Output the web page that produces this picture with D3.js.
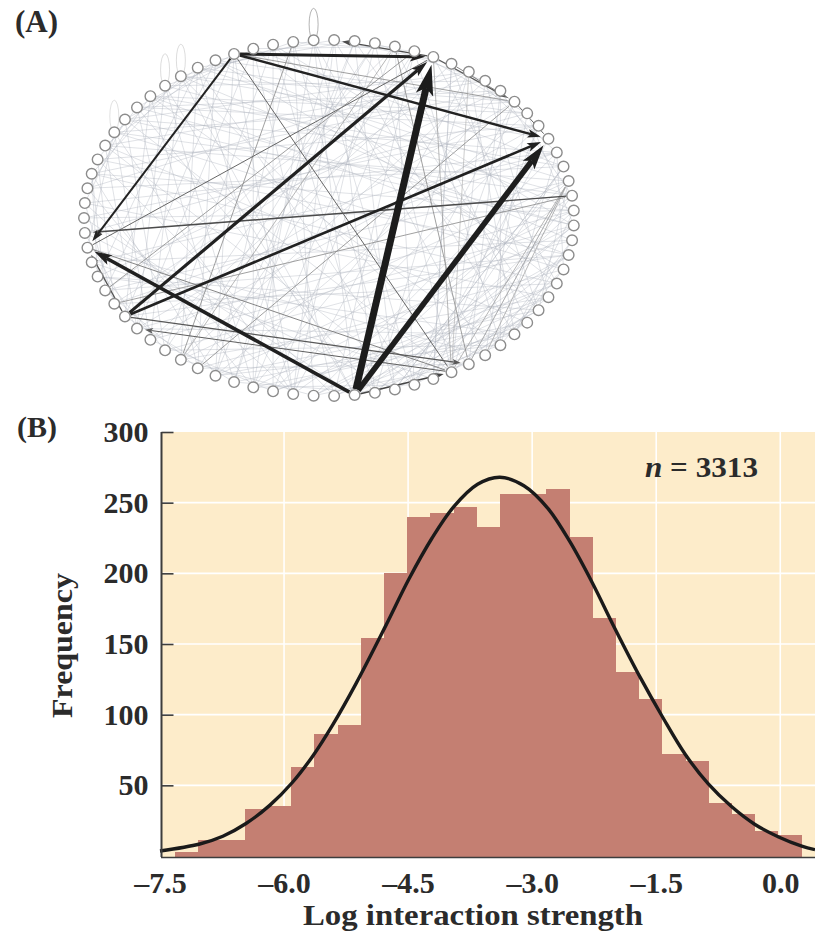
<!DOCTYPE html>
<html>
<head>
<meta charset="utf-8">
<script src="https://cdn.jsdelivr.net/npm/d3@7"></script>
<style>
	body { margin: 0; background: #fff; }
	svg { display: block; }
	text { font-family: "Liberation Serif", serif; font-weight: bold; fill: #2b2b2b; }
</style>
</head>
<body>
<svg id="chart" width="815" height="936"></svg>
<script>
// panel A: nodes sit on an ellipse, numbered clockwise from the leftmost one
const nodeCount = 75;
const selfLoops = [[18, .55], [11, .25], [10, .25], [6, .22]];

// [source, target, line width]
const strongEdges = [
	[17,64,.8],[48,35,.7],[49,35,.7],[50,35,.7],[22,49,.8],[24,50,.7],[26,50,.6],
	[63,29,.8],[73,24,1],[73,50,.9],[69,36,.8],[70,23,.8],[64,22,.7],[14,29,.8],
	[36,74,1.4],[14,50,1],[68,49,1.2],[50,67,1.1],[68,73,1.3],[55,50,1.5],
	[24,19,1.4],[24,29,1.2],[25,29,.9],[29,32,1],
	[14,73,2],[14,32,2.4],[14,24,3],[68,32,2.6],[68,24,3.2],[55,73,3.6],[55,32,5.5],[55,24,7]
];

// thin background links
const faintEdges = [
	[5,35],[6,41],[7,33],[8,38],[9,30],[4,40],[3,37],[2,34],[1,43],[0,31],[74,36],[72,39],[71,44],[70,35],[69,42],
	[68,40],[67,46],[66,38],[65,47],[64,43],[63,49],[62,37],[61,45],[3,28],[5,27],[6,29],[7,26],[8,31],[9,34],
	[10,36],[10,27],[11,32],[11,39],[12,35],[12,30],[13,41],[13,29],[15,34],[15,42],[16,38],[16,44],
	[15,60],[16,59],[17,57],[18,55],[19,54],[20,53],[21,58],[22,52],[23,56],[25,51],[26,54],[27,50],[28,49],
	[14,62],[13,63],[12,64],[11,66],[10,67],[9,68],[19,61],[20,62],[21,64],[22,60],[23,59],[18,52],[17,53],
	[16,54],[15,56],[14,58],[4,56],[5,52],[6,58],[7,50],[8,54],[9,47],[10,55],[11,49],[12,52],[2,60],[1,58],
	[0,55],[3,62],[74,53],[73,48],[72,51],[71,46],[70,24],[69,26],[68,22],[67,29],[66,25],[65,21],[64,27],
	[63,23],[62,30],[61,20],[60,28],[59,31],[58,26],[57,33],[56,35],[55,29],[54,37],[53,40],[52,34],[51,31],
	[30,48],[31,50],[32,52],[33,47],[34,53],[35,49],[36,51],[37,46],[38,54],[39,48],[40,55],[41,50],[42,57],
	[43,59],[44,53],[45,56],[46,60],[47,62],[1,7],[2,9],[3,11],[4,8],[5,13],[6,12],[7,15],[8,14],[10,17],
	[11,18],[12,20],[13,19],[15,22],[17,23],[19,25],[21,27],[23,30],[26,33],[28,36],[30,38],[33,41],[35,44],
	[39,46],[41,47],[43,50],[45,52],[47,55],[49,57],[52,60],[54,61],[57,64],[59,66],[61,68],[63,70],[65,72],
	[67,74],[69,1],[71,3],[73,6],[2,26],[4,31],[6,36],[8,28],[9,40],[11,29],[13,37],[0,37],[1,33],[3,42],
	[5,45],[7,38],[74,30],[72,33],[71,28],[70,40],[69,33],[67,37],[66,31],[65,39],[64,35],[63,41],[62,44],
	[60,38],[59,42],[58,36],[57,40],[56,43],[55,38],[54,44],[53,34],[52,29],[51,25],[18,48],[19,46],[20,44],
	[21,50],[22,45],[23,47],[24,42],[25,44],[26,46],[27,43],[28,47],[12,58],[11,55],[10,60],[9,61],[8,63],
	[7,65],[6,66],[5,67],[4,69],[3,70],[17,62],[16,65],[15,67],[14,68],[13,70],[12,71],[18,60],[19,58]
];

// panel B: histogram, left edge of each bin and its count
const binWidth = .2805;
const binLefts = [-7.315,-7.035,-6.754,-6.474,-6.193,-5.913,-5.632,-5.352,-5.071,-4.791,-4.51,-4.23,-3.949,-3.669,-3.388,-3.108,-2.827,-2.547,-2.266,-1.986,-1.705,-1.425,-1.144,-.864,-.583,-.303,-.022];
const binCounts = [3,11,11,33,35.5,63,86,93,154,200.5,240,243,247,233,256,256,259.5,226,168.5,130,111,72.5,67,37.5,30,18,15];

const curveX = [-7.5,-7.02,-6.74,-6.46,-6.17,-5.9,-5.65,-5.41,-5.13,-4.77,-4.49,-4.21,-3.95,-3.66,-3.39,-3.1,-2.81,-2.54,-2.27,-2,-1.69,-1.42,-1.15,-.87,-.59,-.31,-.02,.26,.42];
const curveY = [3.5,8.5,14,23,36,52,71,93,122,163,196,225,247,263,268,262,246,222,193,161,126,98,72,51,35,22.5,13.5,7,4.5];

const xTicks = [-7.5,-6,-4.5,-3,-1.5,0];
const yTicks = [50,100,150,200,250,300];

let svg = d3.select('#chart');

function drawNetwork() {
	let g = svg.append('g');

	let angle = d3.scaleLinear().domain([0, nodeCount]).range([Math.PI, -Math.PI]);
	let ex = d3.scaleLinear().domain([-1, 1]).range([84, 574]);
	let ey = d3.scaleLinear().domain([-1, 1]).range([396, 40]);
	let nx = (i) => ex(Math.cos(angle(i)));
	let ny = (i) => ey(Math.sin(angle(i)));

	g.selectAll('.faint').data(faintEdges).join('line').attr('class', 'faint')
		.attr('x1', d => nx(d[0])).attr('y1', d => ny(d[0]))
		.attr('x2', d => nx(d[1])).attr('y2', d => ny(d[1]))
		.attr('stroke', '#aeb2bc').attr('stroke-width', .55).attr('stroke-opacity', .7);

	g.selectAll('.loop').data(selfLoops).join('ellipse').attr('class', 'loop')
		.attr('cx', d => nx(d[0])).attr('cy', d => ny(d[0]) - 16)
		.attr('rx', 4.5).attr('ry', 16)
		.attr('fill', 'none').attr('stroke', '#777').attr('stroke-opacity', d => d[1]);

	let shade = d3.scaleLinear().domain([.6, 1, 2, 7]).range(['#aaa', '#666', '#222', '#1c1c1c']).clamp(true);

	// each strong edge stops at the back of its arrowhead, which stops short of the node
	let edges = g.selectAll('.edge').data(strongEdges).join('g').attr('class', 'edge');

	edges.each(function(d) {
		let x0 = nx(d[0]), y0 = ny(d[0]), x1 = nx(d[1]), y1 = ny(d[1]);
		let len = Math.hypot(x1 - x0, y1 - y0);
		let ux = (x1 - x0) / len, uy = (y1 - y0) / len;
		let w = d[2];
		let el = d3.select(this);

		// the grey links have no visible head in the figure
		if (w < 1.1) {
			el.append('line')
				.attr('x1', x0 + ux * 6).attr('y1', y0 + uy * 6)
				.attr('x2', x1 - ux * 7).attr('y2', y1 - uy * 7)
				.attr('stroke', shade(w)).attr('stroke-width', w);
			return;
		}

		let head = 4 + w * 3.8, half = 1.8 + w * 1, gap = 8;
		let tx = x1 - ux * gap, ty = y1 - uy * gap;
		let bx = tx - ux * head, by = ty - uy * head;
		let nxt = tx - ux * head * .78, nyt = ty - uy * head * .78;

		el.append('line')
			.attr('x1', x0 + ux * 6).attr('y1', y0 + uy * 6)
			.attr('x2', nxt).attr('y2', nyt)
			.attr('stroke', shade(w)).attr('stroke-width', w);

		el.append('path')
			.attr('d', 'M' + tx + ',' + ty + 'L' + (bx - uy * half) + ',' + (by + ux * half) + 'L' + nxt + ',' + nyt + 'L' + (bx + uy * half) + ',' + (by - ux * half) + 'Z')
			.attr('fill', shade(w));
	});

	g.selectAll('.node').data(d3.range(nodeCount)).join('circle').attr('class', 'node')
		.attr('cx', d => nx(d)).attr('cy', d => ny(d)).attr('r', 5.3)
		.attr('fill', '#fff').attr('stroke', '#8c8c8c').attr('stroke-width', 1.4);
}

function drawHistogram() {
	let x = d3.scaleLinear().domain([-7.5, .42]).range([160, 815]);
	let y = d3.scaleLinear().domain([0, 300]).range([856, 432]);

	let g = svg.append('g');

	g.append('rect').attr('x', 161).attr('y', y(300)).attr('width', 654).attr('height', 857 - y(300)).attr('fill', '#fdecca');

	g.selectAll('.gridx').data(xTicks.slice(1)).join('line').attr('class', 'gridx')
		.attr('x1', d => x(d)).attr('x2', d => x(d)).attr('y1', y(300)).attr('y2', 857)
		.attr('stroke', '#fff').attr('stroke-width', 1.6);

	g.selectAll('.gridy').data(yTicks.slice(0, -1)).join('line').attr('class', 'gridy')
		.attr('x1', 161).attr('x2', 815).attr('y1', d => y(d)).attr('y2', d => y(d))
		.attr('stroke', '#fff').attr('stroke-width', 1.6);

	g.selectAll('.bar').data(binLefts).join('rect').attr('class', 'bar')
		.attr('x', d => x(d)).attr('width', d => x(d + binWidth) - x(d))
		.attr('y', (d, i) => y(binCounts[i])).attr('height', (d, i) => 857 - y(binCounts[i]))
		.attr('fill', '#c47f72').attr('shape-rendering', 'crispEdges');

	let line = d3.line().x(d => x(d[0])).y(d => y(d[1])).curve(d3.curveCatmullRom.alpha(.5));
	g.append('path').datum(d3.zip(curveX, curveY)).attr('d', line)
		.attr('fill', 'none').attr('stroke', '#1a1a1a').attr('stroke-width', 3.4);

	let xAxis = g.append('g').attr('transform', 'translate(0,857.5)')
		.call(d3.axisBottom(x).tickValues(xTicks).tickSize(0).tickPadding(14).tickFormat(d => (d < 0 ? '–' : '') + Math.abs(d).toFixed(1)));
	xAxis.select('.domain').attr('d', 'M161,0H815').attr('stroke', '#3d3d3d').attr('stroke-width', 1.6);
	xAxis.selectAll('text').attr('font-size', 30).attr('font-family', '"Liberation Serif", serif').attr('fill', '#2b2b2b');

	let yAxis = g.append('g').attr('transform', 'translate(161.5,0)')
		.call(d3.axisLeft(y).tickValues(yTicks).tickSize(-12).tickPadding(13));
	yAxis.select('.domain').attr('d', 'M0,' + y(300) + 'V857').attr('stroke', '#3d3d3d').attr('stroke-width', 2);
	yAxis.selectAll('line').attr('stroke', '#3d3d3d').attr('stroke-width', 1.6);
	yAxis.selectAll('text').attr('font-size', 30).attr('font-family', '"Liberation Serif", serif').attr('fill', '#2b2b2b');

	svg.append('text').attr('transform', 'translate(72,718) rotate(-90)').attr('font-size', 30)
		.attr('textLength', 145).attr('lengthAdjust', 'spacingAndGlyphs').text('Frequency');

	svg.append('text').attr('x', 303).attr('y', 925).attr('font-size', 30)
		.attr('textLength', 340).attr('lengthAdjust', 'spacingAndGlyphs').text('Log interaction strength');

	let note = svg.append('text').attr('x', 645).attr('y', 476.5).attr('font-size', 30)
		.attr('textLength', 113).attr('lengthAdjust', 'spacingAndGlyphs');
	note.append('tspan').attr('font-style', 'italic').text('n');
	note.append('tspan').text(' = 3313');
}

drawNetwork();
drawHistogram();

svg.append('text').attr('x', 15).attr('y', 32).attr('font-size', 31).text('(A)');
svg.append('text').attr('x', 17).attr('y', 437).attr('font-size', 30).text('(B)');
</script>
</body>
</html>
